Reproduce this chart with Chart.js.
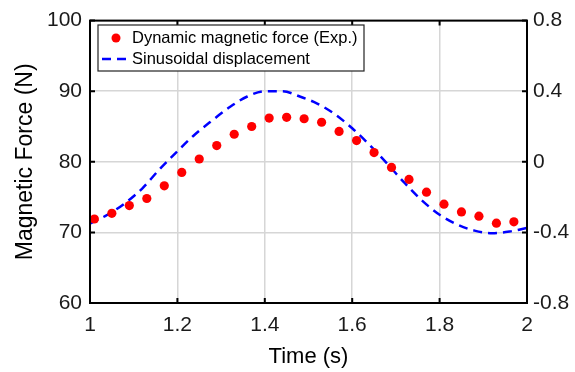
<!DOCTYPE html>
<html>
<head>
<meta charset="utf-8">
<script src="https://cdn.jsdelivr.net/npm/chart.js@4"></script>
<style>
  html, body { margin: 0; padding: 0; background: #fff; }
  #wrap { width: 575px; height: 372px; }
</style>
</head>
<body>
<div id="wrap"><canvas id="chart" width="575" height="372"></canvas></div>
<script>
// measured force samples (N)
const forceTime = [1.01, 1.05, 1.09, 1.13, 1.17, 1.21, 1.25, 1.29, 1.33, 1.37, 1.41, 1.45, 1.49,
                   1.53, 1.57, 1.61, 1.65, 1.69, 1.73, 1.77, 1.81, 1.85, 1.89, 1.93, 1.97];
const forceValues = [71.9, 72.7, 73.8, 74.8, 76.6, 78.5, 80.4, 82.3, 83.9, 85.0, 86.2, 86.3, 86.1,
                     85.6, 84.3, 83.0, 81.3, 79.2, 77.5, 75.7, 74.0, 72.9, 72.3, 71.3, 71.5];

// imposed displacement, right axis
const dispTime = [1.00, 1.04, 1.08, 1.12, 1.16, 1.20, 1.24, 1.28, 1.32, 1.36, 1.40, 1.44, 1.48,
                  1.52, 1.56, 1.60, 1.64, 1.68, 1.72, 1.76, 1.80, 1.84, 1.88, 1.92, 1.96, 2.00];
const dispValues = [-0.35, -0.30, -0.235, -0.15, -0.04, 0.06, 0.155, 0.235, 0.31, 0.37, 0.40, 0.40, 0.37,
                    0.33, 0.27, 0.19, 0.095, -0.01, -0.12, -0.22, -0.30, -0.355, -0.39, -0.405, -0.395, -0.375];

const xTicks = [1, 1.2, 1.4, 1.6, 1.8, 2];
const forceTicks = [60, 70, 80, 90, 100];
const dispTicks = [-0.8, -0.4, 0, 0.4, 0.8];

const FONT = "'Liberation Sans', Arial, Helvetica, sans-serif";

// plain number labels: 1, 1.2, ..., 2 and -0.8 ... 0.8
const fmt = v => String(Math.round(v * 10) / 10);

// inward tick marks on all four sides + black box
const boxTicks = {
    id: 'boxTicks',
    afterDraw(chart) {
        const {ctx, chartArea: a, scales} = chart;
        const len = 5;
        ctx.save();
        ctx.strokeStyle = '#000';
        ctx.lineWidth = 2;
        ctx.beginPath();
        xTicks.forEach(v => {
            const x = scales.x.getPixelForValue(v);
            ctx.moveTo(x, a.bottom); ctx.lineTo(x, a.bottom - len);
            ctx.moveTo(x, a.top); ctx.lineTo(x, a.top + len);
        });
        forceTicks.forEach(v => {
            const y = scales.y.getPixelForValue(v);
            ctx.moveTo(a.left, y); ctx.lineTo(a.left + len, y);
        });
        dispTicks.forEach(v => {
            const y = scales.y1.getPixelForValue(v);
            ctx.moveTo(a.right, y); ctx.lineTo(a.right - len, y);
        });
        ctx.stroke();
        ctx.strokeRect(a.left, a.top, a.right - a.left, a.bottom - a.top);
        ctx.restore();
    }
};

// boxed legend in the upper left corner
const boxLegend = {
    id: 'boxLegend',
    afterDraw(chart) {
        const {ctx} = chart;
        const ds = chart.data.datasets;
        const x0 = 98, y0 = 25, w = 266, h = 46;
        ctx.save();
        ctx.fillStyle = '#fff';
        ctx.fillRect(x0, y0, w, h);
        ctx.strokeStyle = '#222';
        ctx.lineWidth = 1.2;
        ctx.strokeRect(x0, y0, w, h);

        // marker entry
        ctx.fillStyle = ds[0].backgroundColor;
        ctx.beginPath();
        ctx.arc(116, 38, 4.5, 0, Math.PI * 2);
        ctx.fill();

        // dashed line entry
        ctx.strokeStyle = ds[1].borderColor;
        ctx.lineWidth = 2.5;
        ctx.setLineDash([9, 6]);
        ctx.beginPath();
        ctx.moveTo(102, 59);
        ctx.lineTo(131, 59);
        ctx.stroke();
        ctx.setLineDash([]);

        ctx.fillStyle = '#000';
        ctx.font = '16.5px ' + FONT;
        ctx.textBaseline = 'middle';
        ctx.textAlign = 'left';
        ctx.fillText(ds[0].label, 132, 38);
        ctx.fillText(ds[1].label, 132, 59);
        ctx.restore();
    }
};

new Chart(document.getElementById('chart'), {
    type: 'scatter',
    data: {
        datasets: [
            {
                label: 'Dynamic magnetic force (Exp.)',
                data: forceTime.map((t, i) => ({x: t, y: forceValues[i]})),
                yAxisID: 'y',
                backgroundColor: '#ff0000',
                borderColor: '#ff0000',
                pointRadius: 4.6,
                pointBorderWidth: 0,
                showLine: false,
                order: 1,
            },
            {
                label: 'Sinusoidal displacement',
                data: dispTime.map((t, i) => ({x: t, y: dispValues[i]})),
                yAxisID: 'y1',
                borderColor: '#0000ff',
                backgroundColor: '#0000ff',
                borderWidth: 2.5,
                borderDash: [9, 6],
                pointRadius: 0,
                showLine: true,
                cubicInterpolationMode: 'monotone',
                order: 2,
            },
        ],
    },
    options: {
        responsive: false,
        animation: false,
        layout: { padding: { top: 17, left: 0, right: 0, bottom: 0 } },
        plugins: {
            legend: { display: false },
            tooltip: { enabled: false },
        },
        scales: {
            x: {
                type: 'linear',
                min: 1, max: 2,
                afterBuildTicks: s => { s.ticks = xTicks.map(v => ({value: v})); },
                afterFit: s => { s.height = 69; },
                grid: { color: '#d6d6d6', lineWidth: 1.5, drawTicks: false },
                border: { display: false },
                ticks: {
                    padding: 10,
                    color: '#1a1a1a',
                    font: { family: FONT, size: 21 },
                    maxRotation: 0,
                    callback: fmt,
                },
                title: {
                    display: true,
                    text: 'Time (s)',
                    color: '#000',
                    font: { family: FONT, size: 22 },
                    padding: { top: 0, bottom: 2 },
                },
            },
            y: {
                position: 'left',
                min: 60, max: 100,
                afterBuildTicks: s => { s.ticks = forceTicks.map(v => ({value: v})); },
                afterFit: s => { s.width = 90; },
                grid: { color: '#d6d6d6', lineWidth: 1.5, drawTicks: false },
                border: { display: false },
                ticks: {
                    padding: 8,
                    color: '#1a1a1a',
                    font: { family: FONT, size: 21 },
                },
                title: {
                    display: true,
                    text: 'Magnetic Force (N)',
                    color: '#000',
                    font: { family: FONT, size: 23 },
                    padding: { top: 12, bottom: 0 },
                },
            },
            y1: {
                position: 'right',
                min: -0.8, max: 0.8,
                afterBuildTicks: s => { s.ticks = dispTicks.map(v => ({value: v})); },
                afterFit: s => { s.width = 48; },
                grid: { display: false, drawTicks: false },
                border: { display: false },
                ticks: {
                    padding: 6,
                    color: '#1a1a1a',
                    font: { family: FONT, size: 21 },
                    callback: fmt,
                },
            },
        },
    },
    plugins: [boxTicks, boxLegend],
});
</script>
</body>
</html>
